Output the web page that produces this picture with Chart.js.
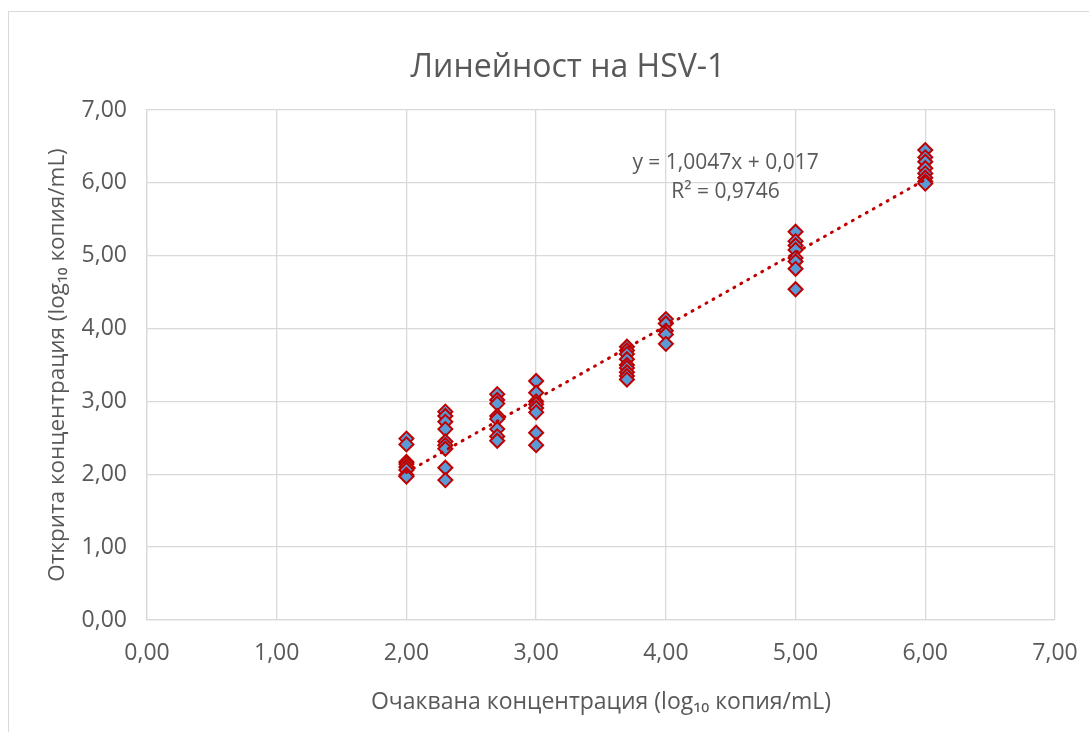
<!DOCTYPE html>
<html lang="bg">
<head>
  <meta charset="UTF-8">
  <title>Линейност на HSV-1</title>
  <script src="https://cdn.jsdelivr.net/npm/chart.js@4.4.5/dist/chart.umd.min.js"></script>
  <style>
    html, body { margin: 0; padding: 0; background: #fff; overflow: hidden; }
    .wrap { position: relative; width: 1089px; height: 732px; }
    .frame { position: absolute; left: 8px; top: 11px; width: 1120px; height: 760px; border: 1.5px solid #D9D9D9; box-sizing: border-box; }
    canvas { position: absolute; left: 0; top: 0; }
  </style>
</head>
<body>
<div class="wrap">
  <div class="frame"></div>
  <canvas id="lin" width="1089" height="732"></canvas>
</div>
<script>
  // expected concentrations (log10 copies/mL)
  const levels = [2.00, 2.30, 2.70, 3.00, 3.70, 4.00, 5.00, 6.00];
  const obs200 = [2.49, 2.41, 2.17, 2.14, 2.10, 2.06, 1.99, 1.97];
  const obs2e2 = [2.86, 2.80, 2.72, 2.62, 2.45, 2.40, 2.35, 2.09, 1.92];
  const obs500 = [3.10, 3.02, 2.97, 2.80, 2.76, 2.62, 2.52, 2.46];
  const obs1e3 = [3.28, 3.12, 3.00, 2.96, 2.91, 2.85, 2.57, 2.40];
  const obs5e3 = [3.75, 3.70, 3.65, 3.58, 3.50, 3.46, 3.40, 3.35, 3.30];
  const obs1e4 = [4.13, 4.07, 3.97, 3.92, 3.79];
  const obs1e5 = [5.33, 5.20, 5.14, 5.08, 4.97, 4.92, 4.82, 4.54];
  const obs1e6 = [6.45, 6.35, 6.29, 6.20, 6.13, 6.07, 6.02, 5.99];
  const observed = [obs200, obs2e2, obs500, obs1e3, obs5e3, obs1e4, obs1e5, obs1e6];

  // trendline as printed on the chart
  const slope = 1.0047;
  const intercept = 0.017;
  const eqText = ['y = 1,0047x + 0,017', 'R² = 0,9746'];
  const titleText = 'Линейност на HSV-1';

  const points = [];
  levels.forEach((x, i) => observed[i].forEach(y => points.push({x: x, y: y})));
  const xMin = levels[0], xMax = levels[levels.length - 1];
  const trend = [{x: xMin, y: slope * xMin + intercept}, {x: xMax, y: slope * xMax + intercept}];

  const grey = '#595959';
  const fam = '"Open Sans", Lato, sans-serif';
  const fmt = v => v.toFixed(2).replace('.', ',');

  // title is centred on the whole chart frame (wider than the window), equation sits in the plot
  const labels = {
    id: 'labels',
    afterDatasetsDraw(chart) {
      const {ctx, scales: {x, y}} = chart;
      ctx.save();
      ctx.fillStyle = grey;
      ctx.textAlign = 'center';
      ctx.textBaseline = 'middle';
      ctx.font = '32px ' + fam;
      ctx.fillText(titleText, 568, 68);
      ctx.font = '21px ' + fam;
      ctx.fillText(eqText[0], x.getPixelForValue(4.46), y.getPixelForValue(6.27));
      ctx.fillText(eqText[1], x.getPixelForValue(4.46), y.getPixelForValue(5.87));
      ctx.restore();
    }
  };

  new Chart(document.getElementById('lin'), {
    type: 'scatter',
    data: {
      datasets: [
        {
          type: 'line',
          data: trend,
          borderColor: '#C00000',
          borderWidth: 3,
          borderDash: [1, 7],
          borderCapStyle: 'round',
          pointRadius: 0,
          fill: false
        },
        {
          data: points,
          pointStyle: 'rectRot',
          pointRadius: 7,
          pointHoverRadius: 7,
          backgroundColor: '#5B9BD5',
          borderColor: '#C00000',
          borderWidth: 2
        }
      ]
    },
    options: {
      responsive: false,
      animation: false,
      layout: { padding: { left: 0, right: 0, top: 110, bottom: 0 } },
      plugins: {
        legend: { display: false },
        tooltip: { enabled: false },
        title: { display: false }
      },
      scales: {
        x: {
          type: 'linear',
          min: 0, max: 7,
          afterFit: s => { s.height = 112; s.paddingRight = 34; s.paddingLeft = 0; },
          ticks: { stepSize: 1, padding: 20, color: grey, font: { family: fam, size: 23 }, callback: fmt },
          grid: { color: '#D9D9D9', lineWidth: 1.3, drawTicks: false },
          border: { color: '#D9D9D9', width: 1.3 },
          title: {
            display: true,
            text: 'Очаквана концентрация (log₁₀ копия/mL)',
            color: grey,
            font: { family: fam, size: 23 },
            padding: { bottom: 16 }
          }
        },
        y: {
          min: 0, max: 7,
          afterFit: s => { s.width = 147; s.paddingTop = 0; s.paddingBottom = 0; },
          ticks: { stepSize: 1, padding: 20, color: grey, font: { family: fam, size: 23 }, callback: fmt },
          grid: { color: '#D9D9D9', lineWidth: 1.3, drawTicks: false },
          border: { color: '#D9D9D9', width: 1.3 },
          title: {
            display: true,
            text: 'Открита концентрация (log₁₀ копия/mL)',
            color: grey,
            font: { family: fam, size: 22.5 },
            padding: { top: 44 }
          }
        }
      }
    },
    plugins: [labels]
  });
</script>
</body>
</html>
